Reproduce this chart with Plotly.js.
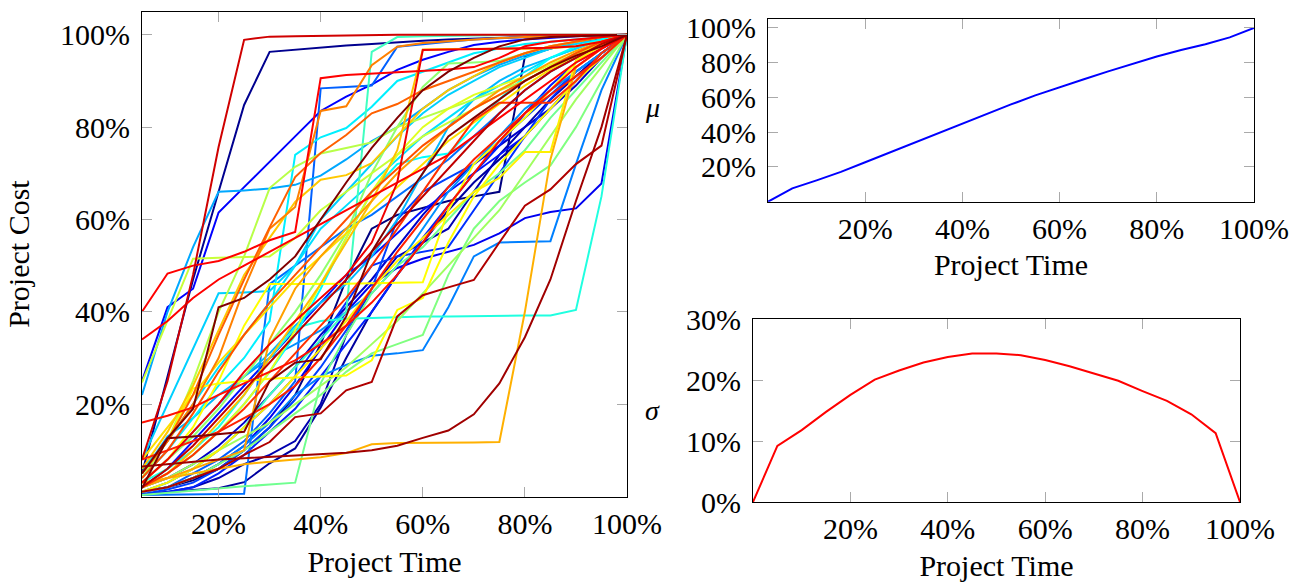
<!DOCTYPE html>
<html>
<head>
<meta charset="utf-8">
<script src="https://cdn.plot.ly/plotly-3.0.1.min.js"></script>
<style>html,body{margin:0;padding:0;background:#fff;}#chart{width:1293px;height:582px;}</style>
</head>
<body>
<div id="chart"></div>
<script>
// ---- data ----
const timePct = [5,10,15,20,25,30,35,40,45,50,55,60,65,70,75,80,85,90,95,100];
const xTickVals = [20,40,60,80,100];
const xTickText = ['20%','40%','60%','80%','100%'];
const costTickVals = [20,40,60,80,100];
const costTickText = ['20%','40%','60%','80%','100%'];
const sigmaTickVals = [0,10,20,30];
const sigmaTickText = ['0%','10%','20%','30%'];

const n1 = [5, 26, 47, 66, 84.8, 96.3, 96.8, 97.3, 97.7, 98, 98.4, 98.7, 99, 99.2, 99.4, 99.6, 99.7, 99.8, 99.9, 100];
const n2 = [1, 2, 3.5, 6, 10, 15, 22, 33, 47, 58, 61, 62.5, 64, 65, 66, 95.3, 97, 98.5, 99.3, 100];
const n3 = [0.5, 1, 1.4, 1.8, 3.1, 7.2, 10.4, 19.3, 30, 40, 48, 55, 62, 68, 73, 78, 84, 90, 96, 100];
const n4 = [0.3, 1, 2, 4, 7, 9, 12, 20, 35, 45, 52, 55, 58, 66, 74, 80, 86, 91, 96, 100];
const n5 = [2, 4, 7, 11, 16, 22, 28, 35, 41, 47, 54, 61, 67, 72, 76, 80, 84, 89, 95, 100];
const b1 = [25, 41, 45, 61.5, 67, 72.4, 78, 83.5, 86.6, 89.2, 92.4, 94.6, 96.3, 97.8, 98.5, 99, 99.4, 99.7, 99.9, 100];
const b2 = [1, 2, 4, 7, 11, 17, 24, 32, 40, 46, 49.5, 51.5, 53, 54.5, 57, 60.3, 61.6, 62.4, 67.8, 100];
const b3 = [2, 6, 12, 18, 24, 30, 36, 42, 48, 52, 57, 62, 66, 70, 74, 78, 84, 90, 95, 100];
const b4 = [0.5, 1, 2, 5, 9, 14, 19, 26, 33, 40, 48, 56, 63, 70, 76, 83, 89, 94, 97, 100];
const b5 = [1, 3, 6, 10, 15, 20, 26, 34, 42, 50, 52, 53, 54, 62, 70, 78, 86, 92, 96, 100];
const b6 = [0.5, 1.5, 3, 6, 10, 15, 21, 28, 36, 45, 60, 66, 69, 72, 77, 82, 87, 92, 96, 100];
const a1 = [1, 2, 5, 8, 12, 18, 25, 88.4, 88.7, 89, 97.4, 98, 98.5, 99, 99.3, 99.5, 99.7, 99.8, 99.9, 100];
const a2 = [1, 2, 4, 7, 11, 16, 22, 26, 28.5, 30.5, 31, 31.7, 41, 52, 55, 55.2, 55.3, 72, 88, 100];
const a3 = [0.3, 0.4, 0.5, 0.5, 0.6, 46, 50, 54, 58, 61, 65, 69, 73, 78, 83, 88, 92, 95, 98, 100];
const a4 = [22, 40, 54, 66, 66.3, 66.7, 67.5, 69.5, 73, 77, 80, 84, 88, 91, 93.5, 95.5, 97, 98.5, 99.5, 100];
const a5 = [3, 8, 14, 20, 26, 30, 33, 36, 40, 44, 50, 58, 66, 72, 78, 84, 88, 92, 96, 100];
const a6 = [5, 13, 17, 22, 26, 31, 37, 42, 46, 52, 60, 70, 80, 86, 90, 93, 95, 97, 99, 100];
const c1 = [4, 10, 17, 24, 30, 38, 74, 77.8, 79.8, 84.4, 90, 92, 94, 96, 97, 98, 98.5, 99, 99.5, 100];
const c2 = [8, 20, 32, 44, 44.2, 44.5, 50, 60, 66, 72, 78, 83, 87, 90, 93, 95, 97, 98, 99, 100];
const c3 = [6, 12, 20, 28, 35, 42, 50, 58, 63, 68, 73, 78, 82, 86, 89, 92, 95, 97, 99, 100];
const c4 = [2, 5, 9, 14, 20, 27, 35, 45, 56, 66, 72, 73.5, 74.3, 80, 86, 91, 95, 97.5, 99, 100];
const t1 = [3, 6, 10, 15, 22, 30, 36.5, 38, 38.5, 38.7, 38.9, 39, 39, 39.1, 39.1, 39.2, 39.2, 40.4, 65, 100];
const t2 = [1, 3, 6, 10, 15, 22, 28, 34, 40, 96.3, 99.5, 99.7, 99.8, 99.9, 100, 100, 100, 100, 100, 100];
const g1 = [0.3, 0.8, 1.2, 1.8, 2.2, 2.6, 3, 24.5, 35, 44, 50, 54, 60, 66, 70, 75, 82, 88, 94, 100];
const g2 = [1, 2, 4, 7, 10, 14, 18, 22, 27, 31, 33, 35, 48, 58, 64, 68, 71.7, 80, 90, 100];
const g3 = [3, 8, 13, 19, 26, 33, 40, 48, 57, 70, 80, 88.7, 93.8, 94, 94.3, 96, 97.5, 98.5, 99.5, 100];
const g4 = [2, 4, 7, 10, 13, 16, 20, 24, 28, 33, 38, 44, 50, 56, 62, 70, 78, 86, 93, 100];
const y1 = [4, 12, 25, 40, 52, 66.8, 71.4, 74.3, 75.5, 76.7, 80, 82, 84, 86, 88, 90, 93, 96, 98, 100];
const y2 = [24.7, 38, 51.5, 51.7, 51.8, 52, 56, 62, 66, 70, 74, 78, 81, 84, 87, 90, 93, 96, 98.5, 100];
const y3 = [2, 5, 9, 14, 20, 27, 36, 46, 56, 66, 74, 80, 84, 87, 89, 91, 93.5, 96, 98.5, 100];
const yF = [3, 8, 15, 25, 37, 46, 46, 46, 46.1, 46.2, 46.3, 46.4, 62, 72, 77, 82, 88, 94, 98, 100];
const yG = [5, 12, 23.4, 24.5, 25, 25.5, 25.8, 26, 26.2, 29.5, 40.4, 43, 55, 65, 72, 78, 84, 90, 95, 100];
const yH = [1, 3, 6, 10, 15, 20, 26, 32, 38, 45, 51, 56, 61, 66, 69, 74.6, 74.6, 94.5, 97.5, 100];
const yI = [8, 15, 22, 29, 35, 41, 47, 52, 57, 62, 67, 72, 77, 81, 85, 89, 92.5, 95.5, 98, 100];
const o1 = [3, 4, 5, 6, 7, 7.5, 8, 8.5, 9.4, 11.3, 11.6, 11.6, 11.7, 11.7, 11.8, 40, 73, 93, 97, 100];
const o2 = [2, 5, 10, 16, 22, 30, 38, 46, 55, 64, 75, 96.8, 96.9, 97, 97, 97, 97.1, 97.5, 98.5, 100];
const o3 = [6, 14, 24, 36, 48, 56, 63.8, 68.6, 69.6, 72.2, 78, 84, 88, 91, 94, 96, 97.5, 98.5, 99.5, 100];
const o4 = [2, 4, 6, 8, 10, 34, 45, 52, 58, 64, 70, 75, 80, 84, 88, 91, 94, 96.5, 98.5, 100];
const o5 = [5, 12, 20, 30, 45, 58, 62.7, 83.5, 84.5, 93.4, 97.4, 98.2, 98.6, 99, 99.3, 99.5, 99.7, 99.8, 99.9, 100];
const d1 = [5, 12, 22, 35, 47, 58.3, 69.2, 74.4, 78.3, 83, 85, 88, 90, 92, 94, 96, 97.5, 98.5, 99.5, 100];
const d2 = [4, 10, 18, 27, 35, 42, 48, 54, 60, 66, 71, 76, 80, 84, 87, 90, 93, 96, 98.5, 100];
const r1 = [2, 5, 9, 14, 19, 25, 31, 37, 43, 50, 58, 66, 74, 81.5, 85.3, 85.3, 85.3, 90, 96, 100];
const r2 = [8, 10, 12, 14, 17, 20, 24, 30, 37, 45, 53, 60, 67, 73, 78, 83, 87, 91, 95, 100];
const r3 = [16, 17.5, 19.3, 22, 24.5, 27, 29.5, 33, 37, 42, 48, 55, 63, 70, 77, 83, 88, 93, 97, 100];
const r4 = [34, 38, 43, 47, 50, 53, 56, 59, 62, 65, 68, 71, 74, 78, 82, 86, 90, 94, 97, 100];
const r5 = [40, 48.3, 50, 51, 53, 55.5, 57.3, 90.6, 91.3, 91.6, 92, 92.3, 92.5, 93, 95, 97.5, 98.5, 99, 99.5, 100];
const r6 = [3, 8, 14, 20, 27, 33, 38, 43, 48, 55, 68, 96.7, 96.8, 96.9, 97, 97, 97.2, 97.5, 98.5, 100];
const r7 = [8, 25, 48, 75.7, 98.9, 99.6, 99.7, 99.8, 99.9, 99.9, 100, 100, 100, 100, 100, 100, 100, 100, 100, 100];
const k1 = [6.5, 7, 7.5, 8, 8.3, 8.6, 8.9, 9.2, 9.5, 10, 11, 12.7, 14.3, 17.8, 24.5, 34.5, 47, 64, 80, 100];
const k2 = [1, 2, 4, 6, 9, 11.8, 17.2, 18, 23, 24.8, 39, 43.6, 45.3, 46.9, 55, 63, 66.5, 72, 76, 100];
const k3 = [2, 6, 11, 17, 23, 29, 35, 41, 47, 53, 59, 65, 71, 77, 83, 88, 92, 95, 98, 100];
const m1 = [1.8, 12.6, 19, 41, 43, 47, 52, 60, 68, 75.5, 82, 88, 92, 95, 97.5, 99, 99.5, 99.7, 99.9, 100];
const m2 = [5, 12.6, 13, 13.5, 14, 25, 29, 29.7, 39, 53, 62, 70, 78, 82, 86, 90, 93, 95.5, 97.5, 100];

const runs = [n1,n2,n3,n4,n5,b1,b2,b3,b4,b5,b6,a1,a3,a2,a5,a4,a6,c2,c3,c1,c4,t1,t2,g1,g2,g3,g4,y1,y2,y3,yF,yG,yH,yI,o3,o2,o1,o4,o5,d1,d2,r1,r2,r3,r4,r5,r6,r7,k3,k2,k1,m1,m2];
const runColors = ['#00008f','#000080','#00009f','#0000b0','#0000c8','#0000ff','#0000f0','#0010ff','#0020ff','#0030ff','#0040ff',
  '#0060ff','#0070ff','#0080ff','#0090ff','#00a8ff','#00b8ff','#00d0ff','#00e0ff','#00f0ff','#00ffff','#20ffe0','#40ffc0',
  '#70ff90','#80ff80','#90ff70','#a0ff60','#b8ff48','#c8ff38','#e0ff20','#ffff00','#ffff00','#fff000','#ffe000',
  '#ffc800','#ffc000','#ffb000','#ffa000','#ff8000','#ff6000','#ff5000','#ff3000','#ff2000','#ff1000','#ff0000','#ff0000','#f00000','#d00000',
  '#c00000','#b00000','#a00000','#800000','#800000'];

const statTime = [0,5,10,15,20,25,30,35,40,45,50,55,60,65,70,75,80,85,90,95,100];
const muCost = [0, 7.7, 12.3, 17.2, 22.7, 28.3, 33.9, 39.6, 45.2, 50.6, 56, 61.2, 66, 70.5, 75, 79.3, 83.6, 87.3, 90.6, 94.6, 100];
const sigmaCost = [0, 9.2, 11.8, 14.8, 17.6, 20.1, 21.6, 22.9, 23.8, 24.4, 24.4, 24.1, 23.3, 22.3, 21.1, 19.9, 18.2, 16.6, 14.4, 11.3, 0];

// ---- traces ----
const traces = runs.map((r, i) => ({
  x: timePct, y: r, type: 'scatter', mode: 'lines',
  line: {color: runColors[i], width: 2}, xaxis: 'x', yaxis: 'y', hoverinfo: 'skip'
}));
traces.push({x: statTime, y: muCost, type: 'scatter', mode: 'lines', line: {color: '#0000ff', width: 2}, xaxis: 'x2', yaxis: 'y2'});
traces.push({x: statTime, y: sigmaCost, type: 'scatter', mode: 'lines', line: {color: '#ff0000', width: 2}, xaxis: 'x3', yaxis: 'y3'});

const F = 'Liberation Serif';
function ax(extra) {
  return Object.assign({
    showline: true, linecolor: '#000', linewidth: 1, mirror: 'ticks',
    ticks: 'inside', ticklen: 10, tickwidth: 1, tickcolor: '#aaaaaa',
    showgrid: false, zeroline: false, tickmode: 'array',
    tickfont: {family: F, size: 30, color: '#000'}, fixedrange: true
  }, extra);
}
const titleFont = {family: F, size: 30, color: '#000'};

const layout = {
  width: 1293, height: 582, showlegend: false,
  margin: {l: 0, r: 0, t: 0, b: 0},
  paper_bgcolor: '#fff', plot_bgcolor: '#fff',
  font: {family: F, color: '#000'},
  xaxis: ax({domain: [142/1293, 627/1293], range: [5, 100], tickvals: xTickVals, ticktext: xTickText, anchor: 'y',
    title: {text: 'Project Time', font: titleFont, standoff: 12}}),
  yaxis: ax({domain: [1 - 496.5/582, 1 - 11.7/582], range: [0, 105], tickvals: costTickVals, ticktext: costTickText, anchor: 'x',
    ticklabelstandoff: 5, title: {text: 'Project Cost', font: titleFont, standoff: 21}}),
  xaxis2: ax({domain: [768/1293, 1254/1293], range: [0, 100], tickvals: xTickVals, ticktext: xTickText, anchor: 'y2',
    title: {text: 'Project Time', font: titleFont, standoff: 10}}),
  yaxis2: ax({domain: [1 - 201.7/582, 1 - 19.3/582], range: [0, 105], tickvals: costTickVals, ticktext: costTickText, anchor: 'x2',
    ticklabelstandoff: 5}),
  xaxis3: ax({domain: [753/1293, 1240/1293], range: [0, 100], tickvals: xTickVals, ticktext: xTickText, anchor: 'y3',
    title: {text: 'Project Time', font: titleFont, standoff: 14}}),
  yaxis3: ax({domain: [1 - 502/582, 1 - 319.3/582], range: [0, 30], tickvals: sigmaTickVals, ticktext: sigmaTickText, anchor: 'x3',
    ticklabelstandoff: 5}),
  annotations: [
    {text: '<i>μ</i>', xref: 'paper', yref: 'paper', x: 653/1293, y: 1 - 107/582, showarrow: false,
      font: {family: F, size: 28, color: '#000'}, xanchor: 'center', yanchor: 'middle'},
    {text: '<i>σ</i>', xref: 'paper', yref: 'paper', x: 653/1293, y: 1 - 410/582, showarrow: false,
      font: {family: F, size: 28, color: '#000'}, xanchor: 'center', yanchor: 'middle'}
  ]
};

Plotly.newPlot('chart', traces, layout, {staticPlot: true, displayModeBar: false});
</script>
</body>
</html>
